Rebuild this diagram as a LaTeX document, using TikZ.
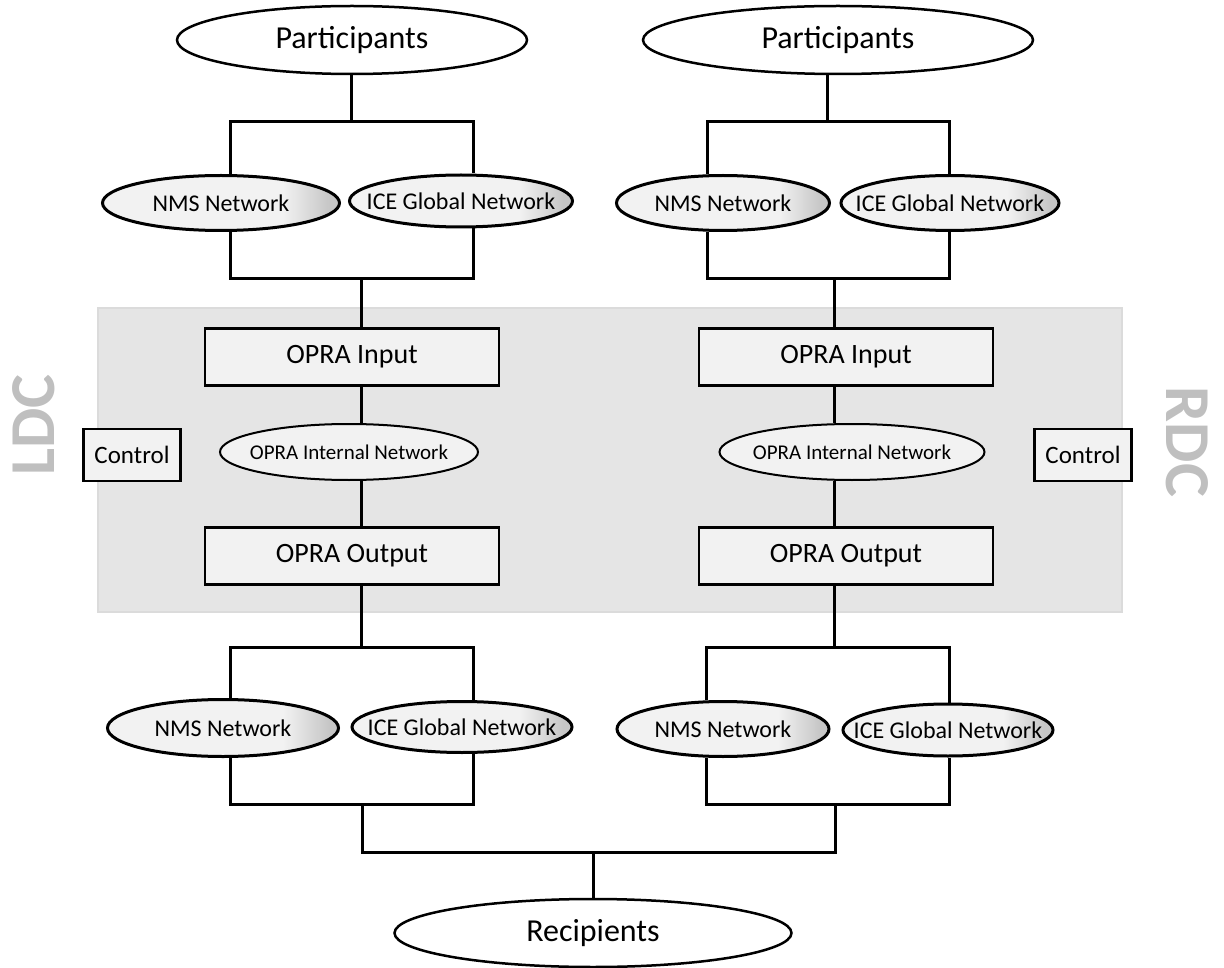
\documentclass[tikz,border=0pt]{standalone}
\usepackage{fontspec}
\setmainfont{Carlito}
\usetikzlibrary{shapes.geometric}
\pgfdeclarehorizontalshading{netshade}{100bp}{color(0bp)=(gray!10); color(63bp)=(gray!10); color(73bp)=(gray!45); color(100bp)=(gray!45)}

\begin{document}
\begin{tikzpicture}[x=1pt, y=-1pt, inner sep=0pt]
    \tikzstyle{slim}=[execute at begin node={\hbox to 0pt\bgroup\hss}, execute at end node={\hss\egroup}]
    \tikzstyle{party}=[ellipse, draw=black, line width=2.5pt, fill=white, minimum width=350pt, minimum height=68pt, font=\fontsize{32}{38}\selectfont]
    \tikzstyle{net}=[ellipse, slim, draw=black, line width=3pt, shade, shading=netshade, minimum height=55pt, font=\fontsize{24}{28}\selectfont]
    \tikzstyle{opra}=[rectangle, draw=black, line width=2.5pt, fill=gray!10, minimum width=294pt, minimum height=57pt, font=\fontsize{28}{33}\selectfont]
    \tikzstyle{inet}=[ellipse, slim, draw=black, line width=2pt, fill=gray!10, minimum width=258pt, minimum height=56pt, font=\fontsize{21}{25}\selectfont]
    \tikzstyle{ctl}=[rectangle, draw=black, line width=2.5pt, fill=gray!10, minimum width=97pt, minimum height=52pt, font=\fontsize{25}{30}\selectfont]
    \tikzstyle{site}=[text=gray!50, font=\fontsize{64}{70}\selectfont\bfseries]
    \tikzstyle{wire}=[draw=black, line width=3pt]

    \useasboundingbox (0,0) rectangle (1224,968);
    \fill[gray!20, draw=gray!28, line width=1.5pt] (98,308) rectangle (1122,612);

    \node[site, rotate=90] (ldc) at (34,425) {LDC};
    \node[site, rotate=-90] (rdc) at (1187,442) {RDC};

    \node[party] (partL) at (352,40) {Participants};
    \node[party, minimum width=390pt] (partR) at (838,40) {Participants};

    \node[net, minimum width=237pt] (nmsTL) at (221,203) {NMS Network};
    \node[net, minimum width=223pt, minimum height=52pt] (iceTL) at (461,201) {ICE Global Network};
    \node[net, minimum width=213pt] (nmsTR) at (723,203) {NMS Network};
    \node[net, minimum width=218pt] (iceTR) at (950,203) {ICE Global Network};

    \node[opra] (inL) at (352,357) {OPRA Input};
    \node[opra] (inR) at (846,357) {OPRA Input};
    \node[inet] (intL) at (349,452) {OPRA Internal Network};
    \node[inet, minimum width=265pt] (intR) at (852,452) {OPRA Internal Network};
    \node[ctl] (ctlL) at (132,455) {Control};
    \node[ctl] (ctlR) at (1083,455) {Control};
    \node[opra] (outL) at (352,556) {OPRA Output};
    \node[opra] (outR) at (846,556) {OPRA Output};

    \node[net, minimum width=231pt, minimum height=57pt] (nmsBL) at (223,728) {NMS Network};
    \node[net, minimum width=220pt, minimum height=51pt] (iceBL) at (462,727) {ICE Global Network};
    \node[net, minimum width=212pt] (nmsBR) at (723,729) {NMS Network};
    \node[net, minimum width=210pt, minimum height=52pt] (iceBR) at (948,730) {ICE Global Network};

    \node[party, minimum width=397pt] (rec) at (593,933) {Recipients};

    \coordinate (tjL) at (351,122);
    \coordinate (t1aL) at (230,122);
    \coordinate (t1bL) at (473,122);
    \coordinate (t2aL) at (230,279);
    \coordinate (t2bL) at (473,279);
    \coordinate (t2jL) at (361,279);
    \coordinate (tjR) at (827,122);
    \coordinate (t1aR) at (707,122);
    \coordinate (t1bR) at (949,122);
    \coordinate (t2aR) at (707,279);
    \coordinate (t2bR) at (949,279);
    \coordinate (t2jR) at (834,279);

    \coordinate (b1jL) at (361,647);
    \coordinate (b1aL) at (230,647);
    \coordinate (b1bL) at (473,647);
    \coordinate (b2aL) at (230,804);
    \coordinate (b2bL) at (473,804);
    \coordinate (b2jL) at (362,804);
    \coordinate (b1jR) at (834,647);
    \coordinate (b1aR) at (706,647);
    \coordinate (b1bR) at (949,647);
    \coordinate (b2aR) at (706,804);
    \coordinate (b2bR) at (949,804);
    \coordinate (b2jR) at (835,804);
    \coordinate (rj) at (593,852);

    \draw[wire] (partL.south -| tjL) -- (tjL);
    \draw[wire] (nmsTL.north -| t1aL) -- (t1aL) -- (t1bL) -- (iceTL.north -| t1bL);
    \draw[wire] (nmsTL.south -| t2aL) -- (t2aL) -- (t2bL) -- (iceTL.south -| t2bL);
    \draw[wire] (t2jL) -- (inL.north -| t2jL);
    \draw[wire] (partR.south -| tjR) -- (tjR);
    \draw[wire] (nmsTR.north -| t1aR) -- (t1aR) -- (t1bR) -- (iceTR.north -| t1bR);
    \draw[wire] (nmsTR.south -| t2aR) -- (t2aR) -- (t2bR) -- (iceTR.south -| t2bR);
    \draw[wire] (t2jR) -- (inR.north -| t2jR);

    \draw[wire] (inL.south -| t2jL) -- (intL.north -| t2jL);
    \draw[wire] (intL.south -| t2jL) -- (outL.north -| t2jL);
    \draw[wire] (inR.south -| t2jR) -- (intR.north -| t2jR);
    \draw[wire] (intR.south -| t2jR) -- (outR.north -| t2jR);

    \draw[wire] (outL.south -| b1jL) -- (b1jL);
    \draw[wire] (nmsBL.north -| b1aL) -- (b1aL) -- (b1bL) -- (iceBL.north -| b1bL);
    \draw[wire] (nmsBL.south -| b2aL) -- (b2aL) -- (b2bL) -- (iceBL.south -| b2bL);
    \draw[wire] (outR.south -| b1jR) -- (b1jR);
    \draw[wire] (nmsBR.north -| b1aR) -- (b1aR) -- (b1bR) -- (iceBR.north -| b1bR);
    \draw[wire] (nmsBR.south -| b2aR) -- (b2aR) -- (b2bR) -- (iceBR.south -| b2bR);

    \draw[wire] (b2jL) -- (b2jL |- rj) -- (b2jR |- rj) -- (b2jR);
    \draw[wire] (rj) -- (rec.north -| rj);
\end{tikzpicture}
\end{document}
